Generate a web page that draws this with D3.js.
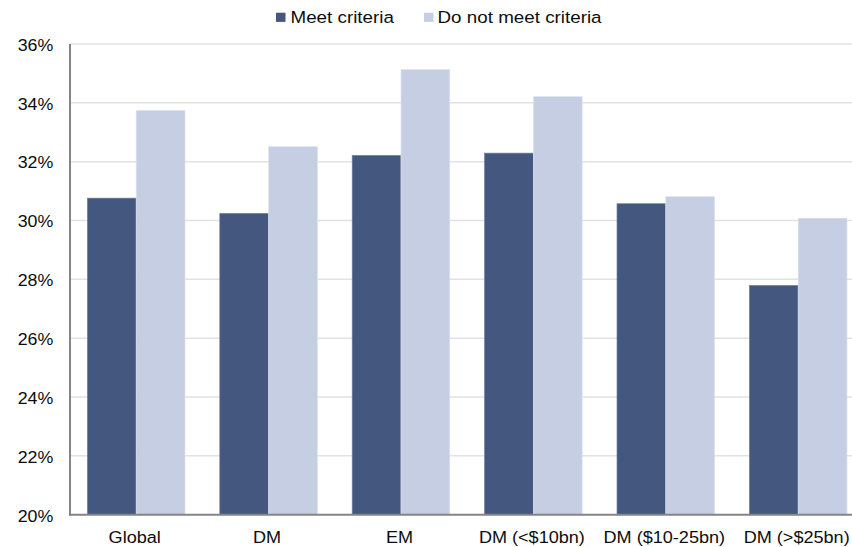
<!DOCTYPE html>
<html>
<head>
<meta charset="utf-8">
<script src="https://cdn.jsdelivr.net/npm/d3@7"></script>
<style>
  html, body { margin: 0; padding: 0; background: #ffffff; }
  svg { display: block; }
  text { font-family: "Liberation Sans", Arial, Helvetica, sans-serif; fill: #0d0d0d; }
</style>
</head>
<body>
<svg id="chart" width="852" height="547"></svg>
<script>
// Categories, series and values (percent)
const categories = ["Global", "DM", "EM", "DM (<$10bn)", "DM ($10-25bn)", "DM (>$25bn)"];
const seriesNames = ["Meet criteria", "Do not meet criteria"];
const meetCriteria = [30.76, 30.24, 32.21, 32.29, 30.57, 27.79];
const notMeetCriteria = [33.74, 32.51, 35.13, 34.21, 30.81, 30.08];
const yTicks = [20, 22, 24, 26, 28, 30, 32, 34, 36];
const colors = ["#44577f", "#c5cee2"];

const svg = d3.select("#chart");
const W = 852, H = 547;
const margin = { left: 70, top: 44, bottom: 32 };
const plotRight = 864.4;           // plot area runs past the right edge of the canvas
const yBottom = H - margin.bottom - 0.3;

const x0 = d3.scaleBand().domain(categories).range([margin.left, plotRight]).padding(0);
const x1 = d3.scaleBand().domain(seriesNames).range([0, x0.bandwidth()])
  .paddingInner(0).paddingOuter(0.357);
const y = d3.scaleLinear().domain([20, 36]).range([yBottom, margin.top]);

const rows = categories.map((c, i) => ({ cat: c, values: [meetCriteria[i], notMeetCriteria[i]] }));

// horizontal gridlines
svg.append("g").selectAll("line").data(yTicks.slice(1)).join("line")
  .attr("x1", margin.left).attr("x2", W)
  .attr("y1", d => y(d)).attr("y2", d => y(d))
  .attr("stroke", "#e2e2e2").attr("stroke-width", 1.5);

// bars
const groups = svg.append("g").selectAll("g").data(rows).join("g")
  .attr("transform", d => `translate(${x0(d.cat)},0)`);
groups.selectAll("rect")
  .data(d => d.values.map((v, k) => ({ key: seriesNames[k], v, k })))
  .join("rect")
  .attr("x", d => x1(d.key))
  .attr("width", x1.bandwidth())
  .attr("y", d => y(d.v))
  .attr("height", d => yBottom - y(d.v))
  .attr("fill", d => colors[d.k])
  .attr("stroke", d => d.k === 0 ? "#6d7c9c" : "#dde3ef")
  .attr("stroke-width", 0.7);

// axis lines
svg.append("line")
  .attr("x1", margin.left).attr("x2", margin.left)
  .attr("y1", y(36)).attr("y2", yBottom + 1)
  .attr("stroke", "#858585").attr("stroke-width", 2);
svg.append("line")
  .attr("x1", margin.left - 1).attr("x2", W)
  .attr("y1", yBottom).attr("y2", yBottom)
  .attr("stroke", "#858585").attr("stroke-width", 2);

// y tick labels (slightly widened type)
const fmt = d => d + "%";
svg.append("g").selectAll("text").data(yTicks).join("text")
  .attr("transform", d => `translate(53.3,${y(d) + 6.8}) scale(1.08,1)`)
  .attr("text-anchor", "end")
  .style("font-size", "16.5px")
  .text(fmt);

// category labels
svg.append("g").selectAll("text").data(categories).join("text")
  .attr("transform", d => `translate(${x0(d) + x0.bandwidth() / 2 - 1.5},542.7) scale(1.13,1)`)
  .attr("text-anchor", "middle")
  .style("font-size", "16px")
  .text(d => d);

// legend
const legendItems = [
  { name: seriesNames[0], sx: 276, tx: 290.5 },
  { name: seriesNames[1], sx: 424, tx: 437.5 }
];
const lg = svg.append("g");
lg.selectAll("rect").data(legendItems).join("rect")
  .attr("x", d => d.sx).attr("y", 12.7)
  .attr("width", 9.5).attr("height", 9.2)
  .attr("fill", (d, i) => colors[i]);
lg.selectAll("text").data(legendItems).join("text")
  .attr("transform", d => `translate(${d.tx},22.7) scale(1.14,1)`)
  .style("font-size", "16.5px")
  .text(d => d.name);
</script>
</body>
</html>
